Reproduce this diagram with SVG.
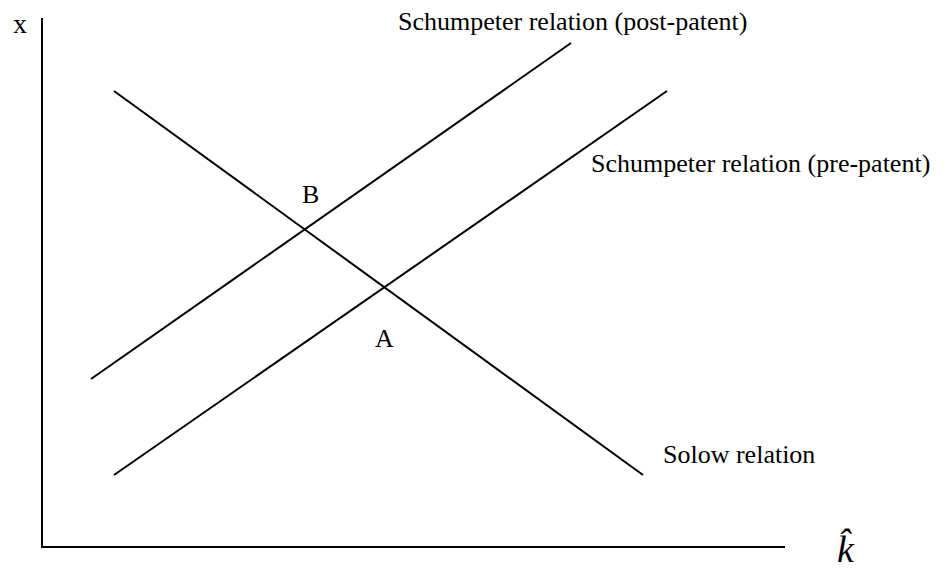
<svg xmlns="http://www.w3.org/2000/svg" width="947" height="569" viewBox="0 0 947 569">
<style>
.t{font-family:"Liberation Serif","Times New Roman",serif;font-size:26px;fill:#000}
.ln{stroke:#000;stroke-width:2;fill:none}
</style>
<rect width="947" height="569" fill="#fff"/>
<g id="axes">
<polyline class="ln" points="42,18 42,547 785,547"/>
<text class="t" x="13" y="33" style="font-size:28px">x</text>
<text class="t" x="837" y="562" style="font-style:italic;font-size:38px">k&#x302;</text>
</g>
<g id="connectors">
<line id="solow" class="ln" x1="114" y1="91" x2="643" y2="475"/>
<line id="post" class="ln" x1="91" y1="379" x2="571" y2="43"/>
<line id="pre" class="ln" x1="114" y1="475" x2="667" y2="91"/>
</g>
<g id="labels">
<text class="t" x="398" y="30">Schumpeter relation (post-patent)</text>
<text class="t" x="591" y="172">Schumpeter relation (pre-patent)</text>
<text class="t" x="663" y="463">Solow relation</text>
<text class="t" x="302" y="203">B</text>
<text class="t" x="375" y="347">A</text>
</g>
</svg>
